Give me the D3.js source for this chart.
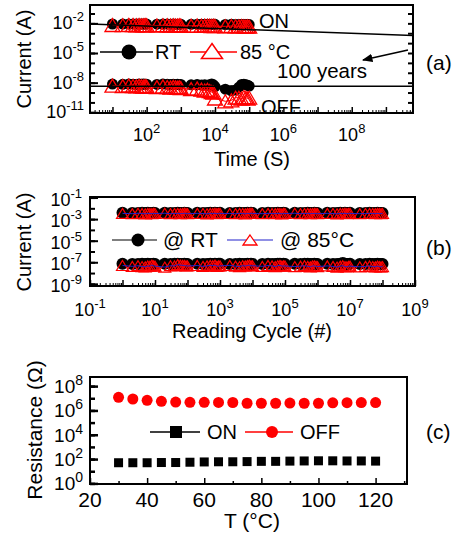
<!DOCTYPE html>
<style>
    body { margin: 0; background: #fff; }
    text {
        font-family: "Liberation Sans", Arial, sans-serif;
        fill: #000;
    }
</style>
<body>
<script src="https://cdn.jsdelivr.net/npm/d3@7"></script>
<script>
// ---------- (a) retention vs time ----------
var timeA = [1e1,2e1,3e1,4e1,5e1,6e1,7e1,8e1,9e1,
             1e2,2e2,3e2,4e2,5e2,6e2,7e2,8e2,9e2,
             1e3,2e3,3e3,4e3,5e3,6e3,7e3,8e3,9e3,
             1e4,2e4,3e4,4e4,5e4,6e4,7e4,8e4,9e4,1e5];
var onRTa = [8.6e-3,8.4e-3,8.7e-3,8.5e-3,8.6e-3,8.4e-3,8.5e-3,8.6e-3,8.4e-3,
             8.5e-3,8.3e-3,8.5e-3,8.4e-3,8.2e-3,8.4e-3,8.3e-3,8.2e-3,8.3e-3,
             8.2e-3,8.0e-3,8.2e-3,8.1e-3,7.9e-3,8.0e-3,8.1e-3,7.9e-3,8.0e-3,
             7.9e-3,7.7e-3,7.9e-3,7.8e-3,7.6e-3,7.8e-3,7.7e-3,7.6e-3,7.7e-3,7.5e-3];
var on85a = [6.8e-3,6.5e-3,6.9e-3,6.6e-3,6.4e-3,6.7e-3,6.5e-3,6.3e-3,6.6e-3,
             6.4e-3,6.1e-3,6.5e-3,6.2e-3,6.0e-3,6.3e-3,6.1e-3,5.9e-3,6.2e-3,
             5.9e-3,5.6e-3,6.0e-3,5.7e-3,5.5e-3,5.8e-3,5.6e-3,5.4e-3,5.7e-3,
             5.3e-3,5.0e-3,5.4e-3,5.1e-3,4.9e-3,5.2e-3,5.0e-3,4.8e-3,5.0e-3,4.6e-3];
var offRTa = [7.2e-9,6.8e-9,7.4e-9,7.0e-9,6.6e-9,7.1e-9,6.9e-9,7.3e-9,6.7e-9,
              7.0e-9,6.6e-9,7.2e-9,6.8e-9,6.4e-9,6.9e-9,6.5e-9,7.0e-9,6.3e-9,
              6.6e-9,6.0e-9,6.5e-9,5.8e-9,6.2e-9,5.5e-9,6.0e-9,7.5e-9,6.0e-9,
              4.0e-9,2.2e-9,1.5e-9,1.8e-9,3.5e-9,6.5e-9,7.0e-9,6.0e-9,5.5e-9,4.5e-9];
var off85a = [5.0e-9,4.5e-9,5.2e-9,4.6e-9,4.2e-9,4.8e-9,4.3e-9,4.0e-9,4.5e-9,
              4.0e-9,3.5e-9,4.2e-9,3.6e-9,3.2e-9,3.8e-9,3.3e-9,3.0e-9,3.4e-9,
              2.8e-9,2.2e-9,2.6e-9,2.0e-9,1.6e-9,1.9e-9,1.4e-9,1.1e-9,1.0e-9,
              2.5e-10,1.3e-10,1.6e-10,3.0e-10,3.0e-10,2.5e-10,3.5e-10,3.0e-10,2.5e-10,3.0e-10];
var onFitA = [[2.2, 8.5e-3], [6.2e9, 6.0e-4]];
var offFitA = [[2.2, 4.4e-9], [6.2e9, 4.4e-9]];
var yLabA = [1e-11, 1e-8, 1e-5, 1e-2];
var xLabA = [1e2, 1e4, 1e6, 1e8];

// ---------- (b) read disturb ----------
var cyclesB = [1,2,3,4,5,6,7,8,9,
               1e1,2e1,3e1,4e1,5e1,6e1,7e1,8e1,9e1,
               1e2,2e2,3e2,4e2,5e2,6e2,7e2,8e2,9e2,
               1e3,2e3,3e3,4e3,5e3,6e3,7e3,8e3,9e3,
               1e4,2e4,3e4,4e4,5e4,6e4,7e4,8e4,9e4,
               1e5,2e5,3e5,4e5,5e5,6e5,7e5,8e5,9e5,
               1e6,2e6,3e6,4e6,5e6,6e6,7e6,8e6,9e6,
               1e7,2e7,3e7,4e7,5e7,6e7,7e7,8e7,9e7,1e8];
var onRTb = [3.8e-3,3.6e-3,3.7e-3,3.9e-3,3.6e-3,3.8e-3,3.7e-3,3.5e-3,3.8e-3,
             3.7e-3,3.9e-3,3.6e-3,3.7e-3,3.8e-3,3.6e-3,3.7e-3,3.9e-3,3.7e-3,
             3.6e-3,3.8e-3,3.7e-3,3.6e-3,3.8e-3,3.7e-3,3.9e-3,3.6e-3,3.7e-3,
             3.8e-3,3.7e-3,3.6e-3,3.8e-3,3.7e-3,3.6e-3,3.8e-3,3.7e-3,3.9e-3,
             3.7e-3,3.6e-3,3.8e-3,3.7e-3,3.6e-3,3.8e-3,3.7e-3,3.6e-3,3.8e-3,
             3.7e-3,3.9e-3,3.6e-3,3.7e-3,3.8e-3,3.6e-3,3.7e-3,3.8e-3,3.7e-3,
             3.6e-3,3.8e-3,3.7e-3,3.6e-3,3.8e-3,3.7e-3,3.9e-3,3.6e-3,3.7e-3,
             3.8e-3,3.6e-3,3.7e-3,3.8e-3,3.7e-3,3.6e-3,3.8e-3,3.7e-3,3.6e-3,3.7e-3];
var on85b = [3.4e-3,3.2e-3,3.5e-3,3.3e-3,3.1e-3,3.4e-3,3.3e-3,3.2e-3,3.4e-3,
             3.3e-3,3.5e-3,3.2e-3,3.3e-3,3.4e-3,3.2e-3,3.3e-3,3.5e-3,3.3e-3,
             3.2e-3,3.4e-3,3.3e-3,3.1e-3,3.4e-3,3.3e-3,3.5e-3,3.2e-3,3.3e-3,
             3.4e-3,3.3e-3,3.2e-3,3.4e-3,3.3e-3,3.1e-3,3.4e-3,3.3e-3,3.5e-3,
             3.3e-3,3.2e-3,3.4e-3,3.3e-3,3.2e-3,3.4e-3,3.3e-3,3.1e-3,3.4e-3,
             3.3e-3,3.5e-3,3.2e-3,3.3e-3,3.4e-3,3.2e-3,3.3e-3,3.4e-3,3.3e-3,
             3.2e-3,3.4e-3,3.3e-3,3.1e-3,3.4e-3,3.3e-3,3.5e-3,3.2e-3,3.3e-3,
             3.4e-3,3.2e-3,3.3e-3,3.4e-3,3.3e-3,3.2e-3,3.4e-3,3.3e-3,3.2e-3,3.3e-3];
var offRTb = [7.2e-8,6.8e-8,7.0e-8,7.4e-8,6.9e-8,7.1e-8,7.0e-8,6.7e-8,7.2e-8,
              7.0e-8,7.3e-8,6.8e-8,7.1e-8,7.2e-8,6.9e-8,7.0e-8,7.4e-8,7.0e-8,
              6.8e-8,7.2e-8,7.0e-8,6.9e-8,7.3e-8,7.0e-8,7.4e-8,6.8e-8,7.1e-8,
              7.2e-8,7.0e-8,6.9e-8,7.2e-8,7.0e-8,6.8e-8,7.3e-8,7.0e-8,7.4e-8,
              7.0e-8,6.9e-8,7.2e-8,7.0e-8,6.8e-8,7.3e-8,7.1e-8,6.9e-8,7.2e-8,
              7.0e-8,7.4e-8,6.8e-8,7.1e-8,7.2e-8,6.9e-8,7.0e-8,7.3e-8,7.0e-8,
              6.9e-8,7.2e-8,7.0e-8,6.8e-8,7.3e-8,8.5e-8,7.4e-8,6.8e-8,7.0e-8,
              7.2e-8,6.8e-8,7.0e-8,7.3e-8,7.0e-8,6.8e-8,7.2e-8,7.0e-8,6.9e-8,7.0e-8];
var off85b = [5.0e-8,4.2e-8,4.8e-8,4.0e-8,3.8e-8,4.5e-8,4.3e-8,5.5e-8,4.6e-8,
              4.4e-8,3.6e-8,4.8e-8,4.5e-8,6.0e-8,5.5e-8,5.2e-8,5.0e-8,4.6e-8,
              4.5e-8,5.0e-8,4.2e-8,4.6e-8,5.2e-8,4.8e-8,5.5e-8,4.2e-8,4.5e-8,
              4.6e-8,5.2e-8,4.4e-8,4.0e-8,4.8e-8,4.5e-8,5.0e-8,5.4e-8,4.6e-8,
              4.8e-8,4.2e-8,5.0e-8,4.6e-8,4.0e-8,4.8e-8,5.2e-8,4.4e-8,4.6e-8,
              4.5e-8,4.0e-8,4.4e-8,4.8e-8,4.2e-8,3.8e-8,4.5e-8,4.6e-8,4.2e-8,
              4.0e-8,4.6e-8,4.2e-8,3.6e-8,4.4e-8,4.8e-8,4.0e-8,3.8e-8,4.2e-8,
              4.4e-8,3.8e-8,4.2e-8,4.5e-8,4.0e-8,3.8e-8,4.4e-8,4.0e-8,3.8e-8,4.0e-8];
var yLabB = [1e-9, 1e-7, 1e-5, 1e-3, 1e-1];
var xLabB = [1e-1, 1e1, 1e3, 1e5, 1e7, 1e9];

// ---------- (c) resistance vs temperature ----------
var tempC = [30,35,40,45,50,55,60,65,70,75,80,85,90,95,100,105,110,115,120];
var offC = [1.2e7,8.7e6,6.8e6,5.6e6,4.9e6,4.7e6,4.7e6,4.6e6,4.5e6,3.9e6,
            3.9e6,3.9e6,4.0e6,3.9e6,3.9e6,4.2e6,4.3e6,4.4e6,4.4e6];
var onC = [50,50,50,52,52,55,58,60,60,62,65,65,68,70,72,72,70,70,68];
var yLabC = [1e0, 1e2, 1e4, 1e6, 1e8];
var xLabC = [20, 40, 60, 80, 100, 120];

var svg = d3.select("body").append("svg")
    .attr("width", 460).attr("height", 538);
svg.append("rect").attr("width", 460).attr("height", 538).attr("fill", "#fff");

var RED = "#f00";

function triPath(w, h) {
    return "M0," + (-h / 2) + "L" + (w / 2) + "," + (h / 2) + "L" + (-w / 2) + "," + (h / 2) + "Z";
}

function powLabel(t, v, expSize, raise) {
    t.append("tspan").text("10");
    t.append("tspan").attr("dy", -raise).attr("font-size", expSize)
        .text(String(Math.round(Math.log10(v))));
}

function decades(scale) {
    var d = scale.domain(), out = [];
    for (var k = Math.floor(Math.log10(d[0])); k <= Math.ceil(Math.log10(d[1])); k++) {
        var v = Math.pow(10, k);
        if (v >= d[0] * 0.999 && v <= d[1] * 1.001) out.push(v);
    }
    return out;
}
function minors(scale) {
    var d = scale.domain(), out = [];
    for (var k = Math.floor(Math.log10(d[0])); k <= Math.ceil(Math.log10(d[1])); k++) {
        for (var m = 2; m < 10; m++) {
            var v = m * Math.pow(10, k);
            if (v >= d[0] && v <= d[1]) out.push(v);
        }
    }
    return out;
}

function tickAxis(g, axis, tr, vals, len, sw) {
    g.append("g").attr("transform", tr)
        .call(axis.tickValues(vals).tickSize(-len).tickSizeOuter(0).tickFormat(""))
        .call(function(a) {
            a.select(".domain").remove();
            a.selectAll("line").attr("stroke", "#000").attr("stroke-width", sw);
        });
}

function frame(g, x, y) {
    var x0 = x.range()[0], x1 = x.range()[1], y0 = y.range()[0], y1 = y.range()[1];
    g.append("rect").attr("x", x0).attr("y", y1).attr("width", x1 - x0).attr("height", y0 - y1)
        .attr("fill", "none").attr("stroke", "#000").attr("stroke-width", 2);
}

// ================= panel (a) =================
var xA = d3.scaleLog().domain([2.2, 6.2e9]).range([90, 413]);
var yA = d3.scaleLog().domain([8.5e-12, 0.72]).range([113, 5]);
var gA = svg.append("g");

var lineA = d3.line().x(function(d) { return xA(d[0]); }).y(function(d) { return yA(d[1]); });
function zipA(v) { return timeA.map(function(t, i) { return [t, v[i]]; }); }

[onRTa, offRTa].forEach(function(s) {
    gA.append("path").attr("d", lineA(zipA(s))).attr("fill", "none").attr("stroke", "#000").attr("stroke-width", 1);
    gA.selectAll(null).data(zipA(s)).enter().append("circle")
        .attr("cx", function(d) { return xA(d[0]); }).attr("cy", function(d) { return yA(d[1]); })
        .attr("r", 5.5).attr("fill", "#000");
});
[on85a, off85a].forEach(function(s) {
    gA.append("path").attr("d", lineA(zipA(s))).attr("fill", "none").attr("stroke", RED).attr("stroke-width", 1);
    gA.selectAll(null).data(zipA(s)).enter().append("path")
        .attr("d", triPath(15, 13))
        .attr("transform", function(d) { return "translate(" + xA(d[0]) + "," + yA(d[1]) + ")"; })
        .attr("fill", "none").attr("stroke", RED).attr("stroke-width", 1.3);
});
// extrapolation lines
gA.append("path").attr("d", lineA(onFitA)).attr("stroke", "#000").attr("stroke-width", 1.5).attr("fill", "none");
gA.append("path").attr("d", lineA(offFitA)).attr("stroke", "#000").attr("stroke-width", 1.5).attr("fill", "none");

svg.append("defs").append("marker").attr("id", "arr")
    .attr("viewBox", "0 0 10 10").attr("refX", 9).attr("refY", 5)
    .attr("markerWidth", 7).attr("markerHeight", 7).attr("orient", "auto")
    .append("path").attr("d", "M0,1L10,5L0,9Z").attr("fill", "#000");
gA.append("line").attr("x1", 408).attr("y1", 50).attr("x2", 363).attr("y2", 60)
    .attr("stroke", "#000").attr("stroke-width", 1.5).attr("marker-end", "url(#arr)");
gA.append("text").attr("x", 277).attr("y", 78).attr("font-size", 20.5).text("100 years");
gA.append("text").attr("x", 259).attr("y", 28).attr("font-size", 20).text("ON");
gA.append("text").attr("x", 261).attr("y", 114).attr("font-size", 20).text("OFF");

// legend (a)
gA.append("line").attr("x1", 100).attr("x2", 153).attr("y1", 52).attr("y2", 52).attr("stroke", "#000").attr("stroke-width", 1.5);
gA.append("circle").attr("cx", 129).attr("cy", 52).attr("r", 7.5).attr("fill", "#000");
gA.append("text").attr("x", 155).attr("y", 59).attr("font-size", 20).text("RT");
gA.append("line").attr("x1", 190).attr("x2", 237).attr("y1", 52).attr("y2", 52).attr("stroke", RED).attr("stroke-width", 1.5);
gA.append("path").attr("d", triPath(21, 15)).attr("transform", "translate(212,51)")
    .attr("fill", "#fff").attr("stroke", RED).attr("stroke-width", 1.5);
gA.append("text").attr("x", 240).attr("y", 59).attr("font-size", 20).text("85 \u00b0C");

// axes (a)
tickAxis(gA, d3.axisBottom(xA), "translate(0,113)", decades(xA), 6, 1.5);
tickAxis(gA, d3.axisBottom(xA), "translate(0,113)", minors(xA), 3, 1);
tickAxis(gA, d3.axisLeft(yA), "translate(90,0)", decades(yA), 5, 2);
tickAxis(gA, d3.axisLeft(yA), "translate(90,0)", yLabA, 8, 2);
tickAxis(gA, d3.axisRight(yA), "translate(413,0)", decades(yA), 5, 2);
frame(gA, xA, yA);
yLabA.forEach(function(v) {
    var t = gA.append("text").attr("x", 84).attr("y", yA(v) + 6).attr("text-anchor", "end").attr("font-size", 18);
    powLabel(t, v, 13, 8);
});
xLabA.forEach(function(v) {
    var t = gA.append("text").attr("x", xA(v)).attr("y", 141).attr("text-anchor", "middle").attr("font-size", 18);
    powLabel(t, v, 13, 8);
});
gA.append("text").attr("x", 252).attr("y", 166).attr("text-anchor", "middle").attr("font-size", 20).text("Time (S)");
gA.append("text").attr("transform", "translate(31,59) rotate(-90)").attr("text-anchor", "middle").attr("font-size", 20).text("Current (A)");
gA.append("text").attr("x", 426).attr("y", 70).attr("font-size", 21).text("(a)");

// ================= panel (b) =================
var xB = d3.scaleLog().domain([0.1, 1e9]).range([90, 415]);
var yB = d3.scaleLog().domain([Math.pow(10, -9.2), Math.pow(10, -0.95)]).range([286, 197]);
var gB = svg.append("g");
var lineB = d3.line().x(function(d) { return xB(d[0]); }).y(function(d) { return yB(d[1]); });
function zipB(v) { return cyclesB.map(function(c, i) { return [c, v[i]]; }); }

[onRTb, offRTb].forEach(function(s) {
    gB.append("path").attr("d", lineB(zipB(s))).attr("fill", "none").attr("stroke", "#000").attr("stroke-width", 1);
    gB.selectAll(null).data(zipB(s)).enter().append("circle")
        .attr("cx", function(d) { return xB(d[0]); }).attr("cy", function(d) { return yB(d[1]); })
        .attr("r", 6).attr("fill", "#000");
});
[on85b, off85b].forEach(function(s) {
    gB.selectAll(null).data(zipB(s)).enter().append("path")
        .attr("d", triPath(12, 10))
        .attr("transform", function(d) { return "translate(" + xB(d[0]) + "," + yB(d[1]) + ")"; })
        .attr("fill", "none").attr("stroke", RED).attr("stroke-width", 1.2);
    gB.append("path").attr("d", lineB(zipB(s))).attr("fill", "none").attr("stroke", "#22c").attr("stroke-width", 1);
});

// legend (b)
gB.append("line").attr("x1", 112).attr("x2", 157).attr("y1", 240).attr("y2", 240).attr("stroke", "#000").attr("stroke-width", 1.2);
gB.append("circle").attr("cx", 138).attr("cy", 240).attr("r", 6.5).attr("fill", "#000");
gB.append("text").attr("x", 163).attr("y", 247).attr("font-size", 21).text("@ RT");
gB.append("line").attr("x1", 227).attr("x2", 273).attr("y1", 240).attr("y2", 240).attr("stroke", "#22c").attr("stroke-width", 1.2);
gB.append("path").attr("d", triPath(14, 10)).attr("transform", "translate(250,240)")
    .attr("fill", "#fff").attr("stroke", RED).attr("stroke-width", 1.3);
gB.append("text").attr("x", 280).attr("y", 247).attr("font-size", 21).text("@ 85\u00b0C");

// axes (b)
tickAxis(gB, d3.axisBottom(xB), "translate(0,286)", decades(xB), 6, 1.5);
tickAxis(gB, d3.axisBottom(xB), "translate(0,286)", minors(xB), 3, 1);
tickAxis(gB, d3.axisLeft(yB), "translate(90,0)", decades(yB), 5, 2);
tickAxis(gB, d3.axisLeft(yB), "translate(90,0)", yLabB, 8, 2);
frame(gB, xB, yB);
yLabB.forEach(function(v) {
    var t = gB.append("text").attr("x", 82).attr("y", yB(v) + 8).attr("text-anchor", "end").attr("font-size", 18);
    powLabel(t, v, 13, 8);
});
xLabB.forEach(function(v) {
    var t = gB.append("text").attr("x", xB(v)).attr("y", 316).attr("text-anchor", "middle").attr("font-size", 18);
    powLabel(t, v, 13, 8);
});
gB.append("text").attr("x", 252).attr("y", 338).attr("text-anchor", "middle").attr("font-size", 20).text("Reading Cycle (#)");
gB.append("text").attr("transform", "translate(31,242) rotate(-90)").attr("text-anchor", "middle").attr("font-size", 20).text("Current (A)");
gB.append("text").attr("x", 426).attr("y", 255).attr("font-size", 21).text("(b)");

// ================= panel (c) =================
var xC = d3.scaleLinear().domain([20, 131]).range([90, 407]);
var yC = d3.scaleLog().domain([Math.pow(10, -0.05), Math.pow(10, 8.75)]).range([484, 377]);
var gC = svg.append("g");

gC.selectAll(null).data(tempC).enter().append("rect")
    .attr("x", function(d) { return xC(d) - 4.5; })
    .attr("y", function(d, i) { return yC(onC[i]) - 4.5; })
    .attr("width", 9).attr("height", 9).attr("fill", "#000");
gC.selectAll(null).data(tempC).enter().append("circle")
    .attr("cx", function(d) { return xC(d); })
    .attr("cy", function(d, i) { return yC(offC[i]); })
    .attr("r", 5.5).attr("fill", RED);

// legend (c)
gC.append("line").attr("x1", 150).attr("x2", 200).attr("y1", 432).attr("y2", 432).attr("stroke", "#000").attr("stroke-width", 1.5);
gC.append("rect").attr("x", 170).attr("y", 426).attr("width", 12).attr("height", 12).attr("fill", "#000");
gC.append("text").attr("x", 207).attr("y", 439).attr("font-size", 20).text("ON");
gC.append("line").attr("x1", 245).attr("x2", 293).attr("y1", 432).attr("y2", 432).attr("stroke", RED).attr("stroke-width", 1.5);
gC.append("circle").attr("cx", 272).attr("cy", 432).attr("r", 6).attr("fill", RED);
gC.append("text").attr("x", 300).attr("y", 439).attr("font-size", 20).text("OFF");

// axes (c)
var xMinC = [30, 50, 70, 90, 110, 130];
tickAxis(gC, d3.axisBottom(xC), "translate(0,484)", xLabC, 6, 1.5);
tickAxis(gC, d3.axisBottom(xC), "translate(0,484)", xMinC, 3, 1.5);
tickAxis(gC, d3.axisLeft(yC), "translate(90,0)", decades(yC), 5, 2.5);
tickAxis(gC, d3.axisLeft(yC), "translate(90,0)", yLabC, 8, 2.5);
frame(gC, xC, yC);
yLabC.forEach(function(v) {
    var t = gC.append("text").attr("x", 83).attr("y", yC(v) + 7).attr("text-anchor", "end").attr("font-size", 19);
    powLabel(t, v, 14, 8);
});
xLabC.forEach(function(v) {
    gC.append("text").attr("x", xC(v)).attr("y", 507).attr("text-anchor", "middle").attr("font-size", 21).text(v);
});
gC.append("text").attr("x", 252).attr("y", 528).attr("text-anchor", "middle").attr("font-size", 21).text("T (\u00b0C)");
gC.append("text").attr("transform", "translate(42,430) rotate(-90)").attr("text-anchor", "middle").attr("font-size", 21).text("Resistance (\u03a9)");
gC.append("text").attr("x", 426).attr("y", 439).attr("font-size", 21).text("(c)");
</script>
